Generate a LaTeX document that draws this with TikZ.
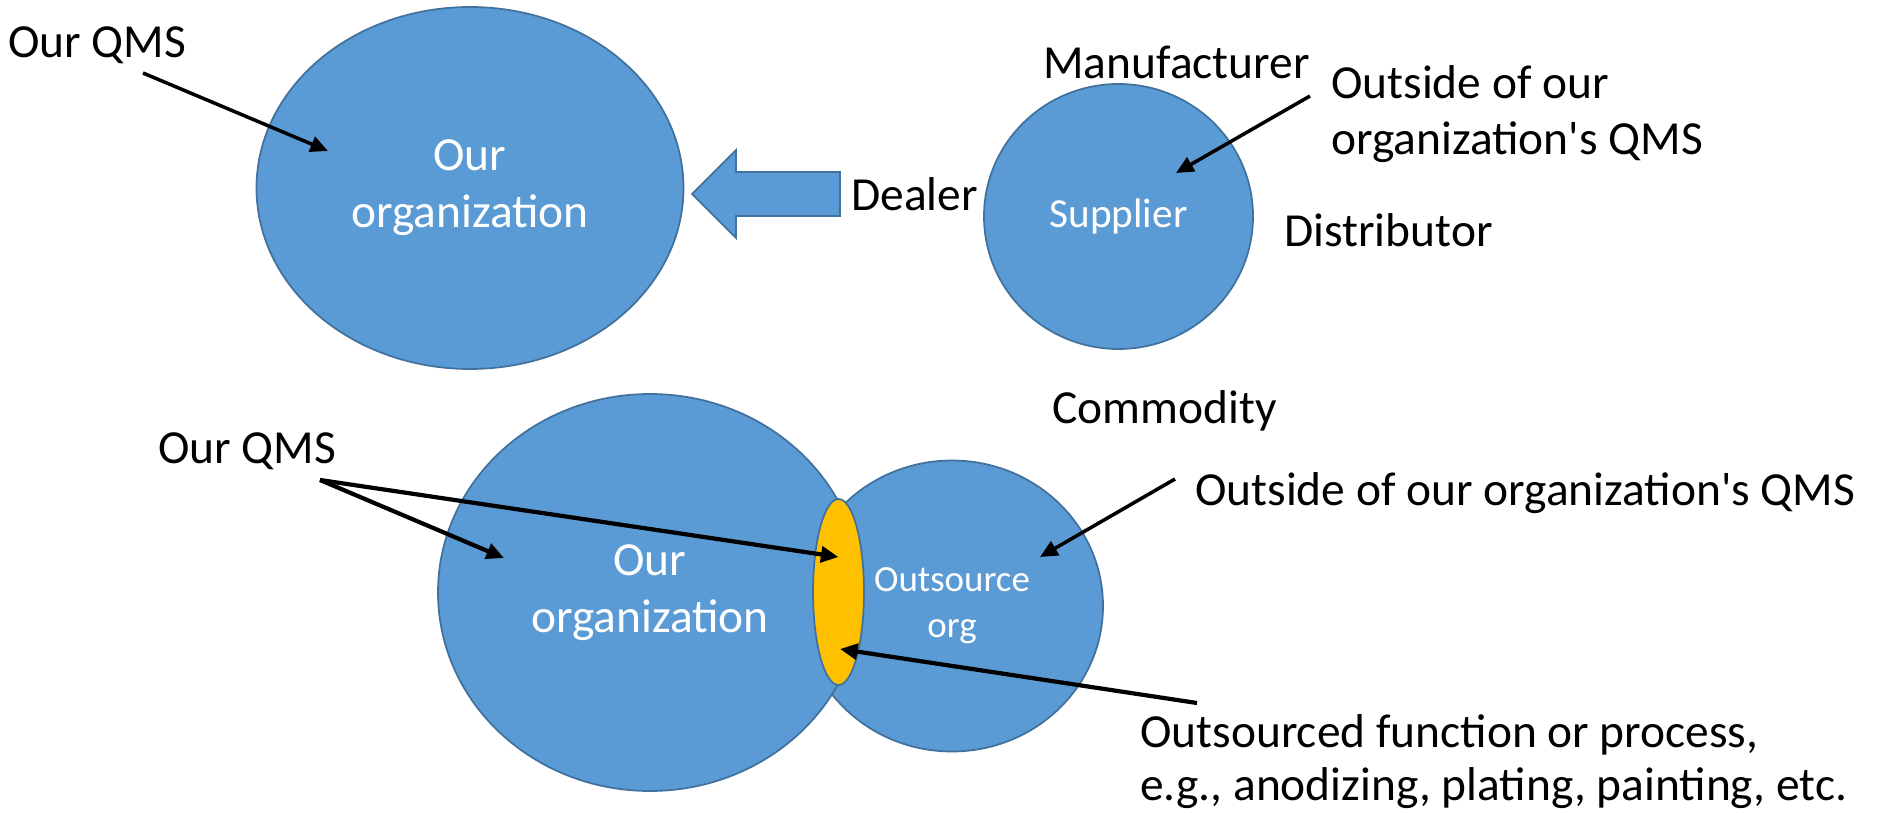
\documentclass[tikz,border=0pt]{standalone}
\usepackage{fontspec}
\setmainfont{Carlito}
\usetikzlibrary{shapes.geometric,arrows.meta}
\definecolor{orgblue}{HTML}{5B9BD5}
\definecolor{orgedge}{HTML}{41719C}
\definecolor{lensyellow}{HTML}{FFC000}

\begin{document}
\begin{tikzpicture}[>={Triangle[length=10pt,width=9pt]},
	blob/.style={draw=orgedge, line width=1pt, fill=orgblue, ellipse,
		inner sep=0pt, text=white, align=center},
	lbl/.style={inner sep=0pt, font=\fontsize{27}{32.4}\selectfont},
	pointer/.style={->, line width=2pt}]
	\useasboundingbox (0,0) rectangle (37.64,16.24);

	% top row: our organization, supply arrow, supplier
	\node[blob, minimum width=8.54cm, minimum height=7.24cm,
	font=\fontsize{27}{32.4}\selectfont]
	(org) at (9.40,12.48) {Our\\organization};
	\node[blob, minimum width=5.38cm, minimum height=5.30cm,
	font=\fontsize{23.5}{28}\selectfont]
	(sup) at (22.37,11.91) {Supplier};
	\draw[draw=orgedge, line width=1pt, fill=orgblue]
	(13.84,12.36) -- (14.72,13.24) -- (14.72,12.80) -- (16.80,12.80) --
	(16.80,11.92) -- (14.72,11.92) -- (14.72,11.48) -- cycle;

	\node[lbl, anchor=base west] (qmsA) at (0.16,15.08) {Our QMS};
	\node[lbl, anchor=base] (manu) at (23.53,14.66) {Manufacturer};
	% base of a two-line label sits on its last line
	\node[lbl, anchor=base west, align=left] (outA) at (26.62,13.14)
	{Outside of our\\organization\textquotesingle s QMS};
	\node[lbl, anchor=base west] (deal) at (17.02,12.02) {Dealer};
	\node[lbl, anchor=base west] (dist) at (25.68,11.30) {Distributor};

	\draw[pointer] ([xshift=2.7cm,yshift=-0.3cm]qmsA.base west) --
	([xshift=-2.84cm,yshift=0.74cm]org.center);
	\draw[pointer] ([xshift=-0.42cm,yshift=1.18cm]outA.base west) --
	([xshift=1.15cm,yshift=0.87cm]sup.center);

	% bottom row: outsourced process shared by both
	\node[blob, minimum width=6.04cm, minimum height=5.82cm,
	font=\fontsize{21}{26.2}\selectfont]
	(out) at (19.04,4.12) {Outsource\\org};
	\node[blob, minimum width=8.48cm, minimum height=7.94cm,
	font=\fontsize{27}{32.4}\selectfont]
	(orgB) at (13.00,4.39) {Our\\organization};
	\node[blob, fill=lensyellow, minimum width=1.02cm, minimum height=3.72cm]
	(lens) at (16.77,4.40) {};

	\node[lbl, anchor=base west] (comm) at (21.04,7.78) {Commodity};
	\node[lbl, anchor=base west] (qmsB) at (3.16,6.98) {Our QMS};
	\node[lbl, anchor=base west] (outB) at (23.90,6.14)
	{Outside of our organization\textquotesingle s QMS};
	\node[lbl, anchor=base west, align=left,
	font=\fontsize{27}{29.6}\selectfont] (func) at (22.80,0.24)
	{Outsourced function or process,\\e.g., anodizing, plating, painting, etc.};

	\draw[pointer, line width=2.4pt] ([xshift=3.24cm,yshift=-0.34cm]qmsB.base west) --
	([xshift=-2.92cm,yshift=0.69cm]orgB.center);
	\draw[pointer, line width=2.4pt] ([xshift=3.24cm,yshift=-0.34cm]qmsB.base west) --
	([yshift=0.70cm]lens.center);
	\draw[pointer] ([xshift=-0.40cm,yshift=0.52cm]outB.base west) --
	([xshift=1.76cm,yshift=0.98cm]out.center);
	\draw[pointer, line width=2.4pt] ([xshift=1.14cm,yshift=1.94cm]func.base west) --
	([xshift=0.03cm,yshift=-1.14cm]lens.center);
\end{tikzpicture}
\end{document}
